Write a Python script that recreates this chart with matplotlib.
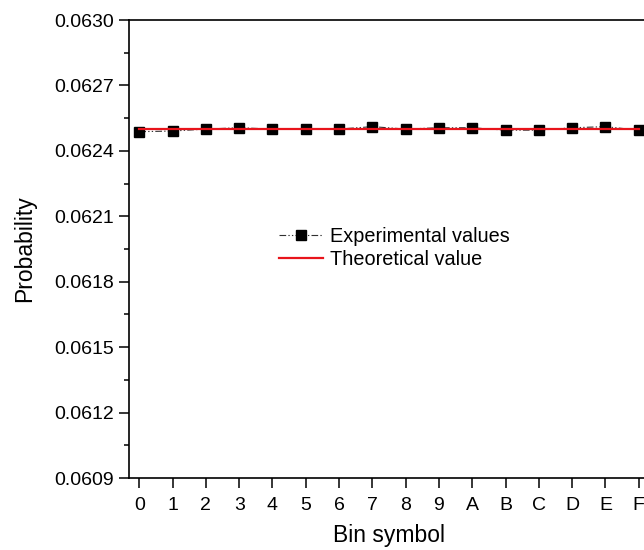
import matplotlib
matplotlib.use("Agg")
import matplotlib.pyplot as plt
import numpy as np

plt.rcParams['font.family'] = ['Liberation Sans', 'DejaVu Sans']

# bin symbols and measured probabilities
bins = ['0', '1', '2', '3', '4', '5', '6', '7', '8', '9', 'A', 'B', 'C', 'D', 'E', 'F']
experimental = [0.062488, 0.062491, 0.062500, 0.062506, 0.062500, 0.062500,
                0.062500, 0.062511, 0.062500, 0.062506, 0.062506, 0.062495,
                0.062495, 0.062506, 0.062511, 0.062495]
theoretical = [1 / 16] * len(bins)

x = np.arange(len(bins))

fig = plt.figure(figsize=(6.44, 5.5), dpi=100)
ax = fig.add_axes([0.2003, 0.1309, 0.8075, 0.8327])

ax.plot(x, experimental, color='#303030', lw=0.8,
        linestyle=(0, (6, 2, 1.2, 2, 1.2, 2)),
        marker='s', markersize=6.5, markerfacecolor='black',
        markeredgecolor='black', label='Experimental values')
ax.plot(x, theoretical, color='#e8141b', lw=1.6, label='Theoretical value')

ax.set_xlim(-0.31, 15.31)
ax.set_ylim(0.0609, 0.0630)
ax.set_xticks(x)
ax.set_xticklabels(bins)
ax.set_yticks(np.arange(0.0609, 0.06301, 0.0003))
ax.set_yticklabels(['%.4f' % v for v in np.arange(0.0609, 0.06301, 0.0003)])
ax.yaxis.set_minor_locator(plt.MultipleLocator(0.00015))

for s in ax.spines.values():
    s.set_linewidth(1.2)

ax.tick_params(axis='both', which='major', direction='out', length=7, width=1.1,
               labelsize=14, pad=4)
ax.tick_params(axis='x', which='major', pad=7)
ax.tick_params(axis='y', which='minor', direction='out', length=3.6, width=1.1)

ax.set_xlabel('Bin symbol', fontsize=16.5, labelpad=7)
ax.set_ylabel('Probability', fontsize=16.5, labelpad=13)

ax.legend(loc='upper left', bbox_to_anchor=(0.433, 0.588),
          bbox_transform=fig.transFigure, frameon=False, fontsize=14.3,
          borderpad=0, borderaxespad=0, handlelength=2.2, handletextpad=0.4,
          labelspacing=0.22)

fig.savefig('out.png', dpi=100)
